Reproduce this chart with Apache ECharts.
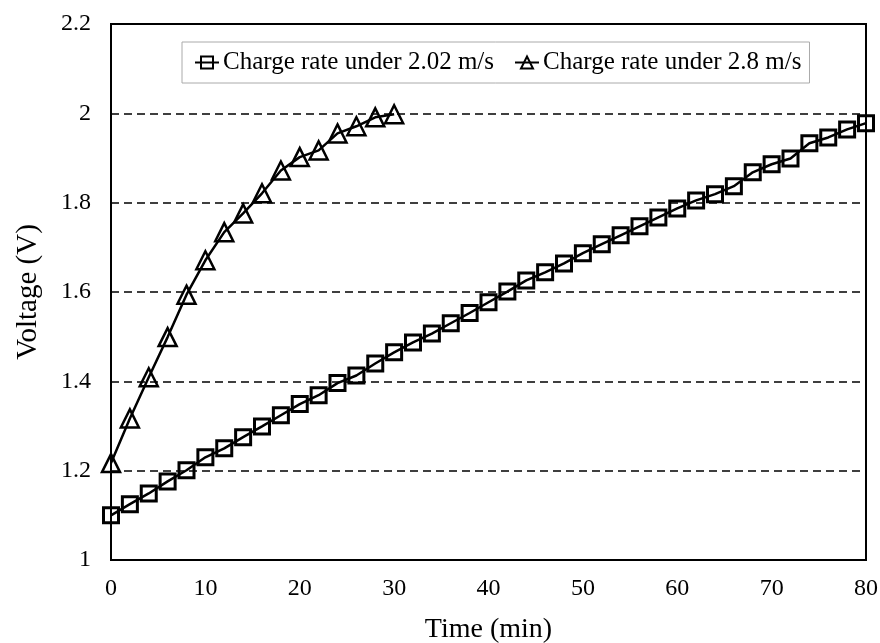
<!DOCTYPE html>
<html lang="en">
<head>
    <meta charset="UTF-8">
    <title>Voltage vs time</title>
    <script src="https://cdn.jsdelivr.net/npm/echarts@6/dist/echarts.min.js"></script>
    <style type="text/css">
        body{
            margin:0;
            background:#fff;
        }
    </style>
</head>
<body>
<div id="main" style="width: 880px;height:643px;"></div>
<script type="text/javascript">
    // time (min) for each series
    var timeSlow = [0,2,4,6,8,10,12,14,16,18,20,22,24,26,28,30,32,34,36,38,40,
                    42,44,46,48,50,52,54,56,58,60,62,64,66,68,70,72,74,76,78,80];
    var voltSlow = [1.100,1.125,1.149,1.176,1.201,1.230,1.250,1.275,1.299,1.324,1.349,
                    1.369,1.396,1.413,1.440,1.465,1.487,1.507,1.530,1.553,1.577,
                    1.601,1.626,1.644,1.664,1.687,1.707,1.727,1.747,1.767,1.787,
                    1.805,1.819,1.837,1.868,1.886,1.899,1.933,1.946,1.964,1.978];
    var timeFast = [0,2,4,6,8,10,12,14,16,18,20,22,24,26,28,30];
    var voltFast = [1.217,1.317,1.409,1.499,1.594,1.671,1.734,1.776,1.821,1.872,
                    1.902,1.917,1.955,1.971,1.991,1.998];
    var names = ['Charge rate under 2.02 m/s', 'Charge rate under 2.8 m/s'];

    function pairs(xs, ys) {
        var out = [];
        for (var i = 0; i < xs.length; i++) {
            out.push([xs[i], ys[i]]);
        }
        return out;
    }

    var font = 'Liberation Serif';
    var myChart = echarts.init(document.getElementById('main'));
    var option = {
        backgroundColor: '#fff',
        textStyle: { fontFamily: font, color: '#000' },
        grid: {
            left: 111, right: 14, top: 24, bottom: 83,
            outerBoundsMode: 'none',
            show: true, borderColor: '#000', borderWidth: 2
        },
        legend: {
            left: 182, top: 42,
            padding: [8, 8, 8, 12],
            borderColor: '#aaa', borderWidth: 1,
            itemWidth: 24, itemHeight: 15, itemGap: 20,
            textStyle: { fontFamily: font, fontSize: 25, color: '#000', padding: [0, 0, 0, -1] },
            data: names
        },
        xAxis: {
            type: 'value', min: 0, max: 80, interval: 10,
            name: 'Time (min)', nameLocation: 'middle', nameGap: 56,
            nameTextStyle: { fontFamily: font, fontSize: 28, color: '#000' },
            axisLine: { show: true, lineStyle: { color: '#000', width: 2 } },
            axisTick: { show: false },
            axisLabel: { fontFamily: font, fontSize: 24, color: '#000', margin: 17 },
            splitLine: { show: false }
        },
        yAxis: {
            type: 'value', min: 1, max: 2.2, interval: 0.2,
            name: 'Voltage (V)', nameLocation: 'middle', nameGap: 68,
            nameTextStyle: { fontFamily: font, fontSize: 29, color: '#000' },
            axisLine: { show: true, lineStyle: { color: '#000', width: 1 } },
            axisTick: { show: false },
            axisLabel: { fontFamily: font, fontSize: 24, color: '#000', margin: 20 },
            splitLine: { show: true, lineStyle: { color: '#000', width: 1.5, type: [8, 5] } }
        },
        series: [
            {
                name: names[0],
                type: 'line',
                data: pairs(timeSlow, voltSlow),
                symbol: 'rect', symbolSize: 15,
                lineStyle: { color: '#000', width: 2.5 },
                itemStyle: { color: 'rgba(255,255,255,0)', borderColor: '#000', borderWidth: 3 },
                z: 3
            },
            {
                name: names[1],
                type: 'line',
                data: pairs(timeFast, voltFast),
                symbol: 'triangle', symbolSize: 18,
                lineStyle: { color: '#000', width: 2.5 },
                itemStyle: { color: 'rgba(255,255,255,0)', borderColor: '#000', borderWidth: 2.5 },
                z: 3
            }
        ]
    };
    myChart.setOption(option);
</script>
</body>
</html>
